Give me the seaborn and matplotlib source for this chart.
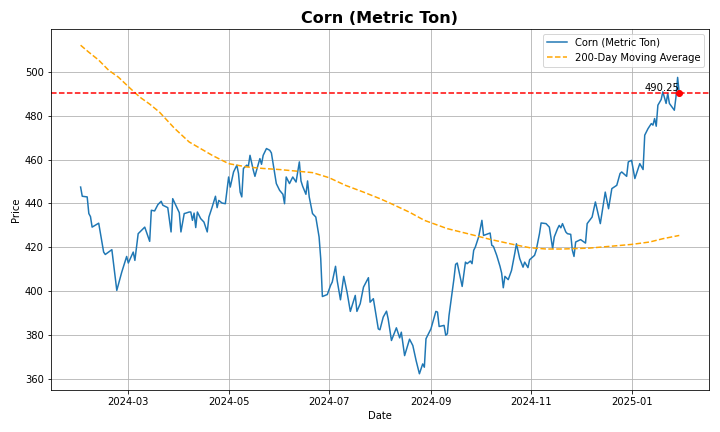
import pandas as pd
import numpy as np
import matplotlib
matplotlib.use("Agg")
import matplotlib.pyplot as plt
import seaborn as sns

# daily price
price_dates = [
    "2024-02-01", "2024-02-02", "2024-02-05", "2024-02-06", "2024-02-07", "2024-02-08", "2024-02-12",
    "2024-02-15", "2024-02-16", "2024-02-20", "2024-02-23", "2024-02-26", "2024-02-29",
    "2024-03-01", "2024-03-04", "2024-03-05", "2024-03-07", "2024-03-11", "2024-03-14", "2024-03-15",
    "2024-03-17", "2024-03-19", "2024-03-21", "2024-03-22", "2024-03-25", "2024-03-27", "2024-03-28",
    "2024-04-01", "2024-04-02", "2024-04-04", "2024-04-05", "2024-04-07", "2024-04-08", "2024-04-09",
    "2024-04-10", "2024-04-11", "2024-04-12", "2024-04-14", "2024-04-16", "2024-04-18", "2024-04-19",
    "2024-04-21", "2024-04-23", "2024-04-24", "2024-04-25", "2024-04-27", "2024-04-29",
    "2024-05-01", "2024-05-02", "2024-05-04", "2024-05-06", "2024-05-07", "2024-05-08", "2024-05-09",
    "2024-05-10", "2024-05-12", "2024-05-13", "2024-05-14", "2024-05-15", "2024-05-16", "2024-05-17",
    "2024-05-18", "2024-05-20", "2024-05-21", "2024-05-22", "2024-05-24", "2024-05-26", "2024-05-27",
    "2024-05-30",
    "2024-06-01", "2024-06-03", "2024-06-04", "2024-06-05", "2024-06-07", "2024-06-09", "2024-06-11",
    "2024-06-12", "2024-06-13", "2024-06-14", "2024-06-15", "2024-06-17", "2024-06-18", "2024-06-19",
    "2024-06-21", "2024-06-23", "2024-06-25", "2024-06-26", "2024-06-27", "2024-06-30",
    "2024-07-02", "2024-07-03", "2024-07-05", "2024-07-06", "2024-07-08", "2024-07-10", "2024-07-12",
    "2024-07-14", "2024-07-17", "2024-07-18", "2024-07-20", "2024-07-22", "2024-07-25", "2024-07-26",
    "2024-07-28", "2024-07-31",
    "2024-08-01", "2024-08-03", "2024-08-05", "2024-08-06", "2024-08-08", "2024-08-11", "2024-08-13",
    "2024-08-14", "2024-08-16", "2024-08-19", "2024-08-21", "2024-08-23", "2024-08-25", "2024-08-27",
    "2024-08-28", "2024-08-29",
    "2024-09-01", "2024-09-04", "2024-09-05", "2024-09-06", "2024-09-09", "2024-09-10", "2024-09-11",
    "2024-09-12", "2024-09-15", "2024-09-16", "2024-09-17", "2024-09-20", "2024-09-22", "2024-09-23",
    "2024-09-25", "2024-09-26", "2024-09-27", "2024-09-28", "2024-09-30",
    "2024-10-02", "2024-10-03", "2024-10-06", "2024-10-07", "2024-10-08", "2024-10-09", "2024-10-11",
    "2024-10-13", "2024-10-14", "2024-10-15", "2024-10-16", "2024-10-18", "2024-10-20", "2024-10-22",
    "2024-10-23", "2024-10-25", "2024-10-27", "2024-10-28", "2024-10-30", "2024-10-31",
    "2024-11-03", "2024-11-04", "2024-11-06", "2024-11-07", "2024-11-10", "2024-11-12", "2024-11-14",
    "2024-11-15", "2024-11-17", "2024-11-18", "2024-11-19", "2024-11-20", "2024-11-22", "2024-11-23",
    "2024-11-25", "2024-11-26", "2024-11-27", "2024-11-28",
    "2024-12-01", "2024-12-04", "2024-12-05", "2024-12-08", "2024-12-10", "2024-12-13", "2024-12-16",
    "2024-12-18", "2024-12-20", "2024-12-23", "2024-12-25", "2024-12-26", "2024-12-29", "2024-12-30",
    "2025-01-01", "2025-01-03", "2025-01-06", "2025-01-08", "2025-01-09", "2025-01-11", "2025-01-13",
    "2025-01-14", "2025-01-15", "2025-01-16", "2025-01-17", "2025-01-19", "2025-01-20", "2025-01-22",
    "2025-01-23", "2025-01-24", "2025-01-27", "2025-01-28", "2025-01-29", "2025-01-30",
]
price_values = [
    447.5, 443.3, 443.0, 435.4, 434.0, 429.2, 431.0,
    417.8, 416.7, 418.9, 400.3, 408.6, 415.8,
    412.8, 417.8, 414.0, 426.2, 429.2, 422.7, 436.9,
    436.6, 439.5, 441.0, 439.2, 438.1, 427.0, 442.2,
    435.8, 427.0, 435.4, 435.6, 436.1, 436.1, 432.3,
    435.6, 429.0, 436.1, 433.1, 431.5, 427.0, 433.8,
    438.4, 443.3, 438.1, 441.4, 440.2, 439.9,
    452.1, 447.5, 454.4, 457.5, 453.7, 445.2, 443.0,
    456.0, 457.5, 457.0, 462.0, 458.5, 455.2, 452.4,
    455.2, 460.5, 457.9, 462.0, 465.1, 464.3, 463.1,
    449.1,
    446.0, 444.2, 439.9, 452.1, 449.1, 452.1, 449.8,
    454.4, 459.0, 450.3, 447.9, 444.2, 450.3, 443.0,
    435.4, 433.8, 424.7, 414.8, 397.5, 398.4,
    402.6, 404.1, 411.3, 404.8, 396.0, 406.7, 399.5,
    390.7, 398.0, 390.7, 394.2, 401.8, 406.1, 394.9,
    396.5, 382.7,
    382.3, 388.1, 390.8, 387.3, 377.4, 383.2, 378.6,
    381.2, 370.5, 378.0, 375.1, 368.2, 362.2, 366.7,
    365.2, 378.2,
    382.7, 390.7, 390.4, 383.8, 384.3, 379.8, 380.5,
    388.8, 405.6, 412.2, 412.8, 402.1, 413.2, 412.5,
    413.7, 412.5, 418.6, 420.1, 424.7,
    432.3, 425.4, 426.2, 426.5, 420.9, 420.4, 416.3,
    411.3, 408.2, 401.5, 406.7, 405.2, 409.4, 417.3,
    421.6, 414.8, 410.9, 413.2, 410.7, 414.3,
    416.3, 418.6, 426.2, 431.1, 430.8, 429.2, 419.4,
    424.7, 428.5, 430.0, 428.9, 430.8, 427.0, 426.2,
    425.9, 418.6, 415.8, 422.4,
    423.5, 421.9, 430.8, 433.8, 440.7, 430.8, 445.2,
    437.6, 446.8, 448.3, 453.7, 454.4, 452.4, 459.0,
    459.7, 451.4, 458.2, 455.5, 471.2, 474.2, 476.5,
    475.8, 478.8, 475.3, 484.9, 487.5, 491.0, 485.7,
    490.3, 485.7, 482.6, 488.7, 497.6, 490.25,
]

# 200-day moving average
ma_dates = [
    "2024-02-01", "2024-02-06", "2024-02-12", "2024-02-18", "2024-02-24", "2024-03-02", "2024-03-08",
    "2024-03-14", "2024-03-20", "2024-03-29", "2024-04-07", "2024-04-21", "2024-05-01", "2024-05-12",
    "2024-05-22", "2024-06-01", "2024-06-21", "2024-07-01", "2024-07-11", "2024-07-22", "2024-08-01",
    "2024-08-07", "2024-08-19", "2024-08-28", "2024-09-11", "2024-09-25", "2024-10-07", "2024-10-21",
    "2024-10-31", "2024-11-10", "2024-11-20", "2024-12-06", "2024-12-20", "2025-01-01", "2025-01-12",
    "2025-01-20", "2025-01-30",
]
ma_values = [
    512.3, 509.1, 505.5, 500.9, 497.7, 492.7, 488.6,
    485.4, 481.7, 474.4, 468.1, 462.0, 458.2, 456.7,
    456.0, 455.5, 454.1, 451.8, 448.3, 445.2, 442.2,
    440.2, 436.0, 432.3, 428.5, 425.9, 423.6, 421.3,
    419.8, 419.2, 419.2, 419.6, 420.5, 421.3, 422.4,
    423.9, 425.4,
]

price = pd.DataFrame({"Date": pd.to_datetime(price_dates), "Price": price_values})
ma = pd.DataFrame({"Date": pd.to_datetime(ma_dates), "Price": ma_values})

last_date = price["Date"].iloc[-1]
last_price = price["Price"].iloc[-1]

fig, ax = plt.subplots(figsize=(10, 6), dpi=72)

sns.lineplot(data=price, x="Date", y="Price", ax=ax, color="tab:blue",
             linewidth=1.5, label="Corn (Metric Ton)")
sns.lineplot(data=ma, x="Date", y="Price", ax=ax, color="orange",
             linestyle="--", linewidth=1.5, label="200-Day Moving Average")

# latest price marker
ax.axhline(last_price, color="red", linestyle="--", linewidth=1.5)
ax.plot(last_date, last_price, "o", color="red", markersize=6)
ax.text(last_date, last_price, f"{last_price:.2f}", ha="right", va="bottom", fontsize=10)

ax.set_title("Corn (Metric Ton)", fontsize=16, fontweight="bold")
ax.set_xlabel("Date")
ax.set_ylabel("Price")
ax.grid(True)
ax.legend(loc="upper right")

plt.tight_layout()
plt.savefig("out.png", dpi=72)
